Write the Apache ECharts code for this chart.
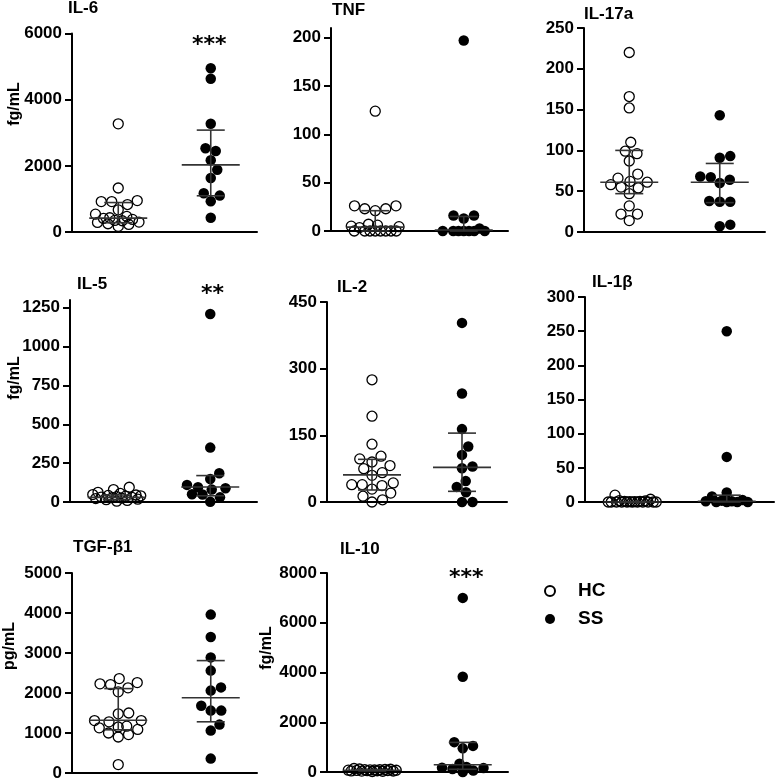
<!DOCTYPE html>
<html><head><meta charset="utf-8">
<script src="https://cdn.jsdelivr.net/npm/echarts@6/dist/echarts.min.js"></script>
<style>html,body{margin:0;padding:0;background:#fff}#c{width:777px;height:780px}</style>
</head><body><div id="c"></div>
<script>
// ---- data ----
const groups = ['HC', 'SS'];
// stats arrays are [median, Q1, Q3]
const il6Hc = [3270, 1330, 920, 830, 920, 950, 670, 540, 470, 430, 380, 340, 300, 250, 170, 230, 290, 350, 410];
const il6Ss = [4950, 4630, 3270, 2530, 2450, 2170, 1880, 1630, 1170, 1100, 930, 430];
const il6HcStat = [420, 280, 890];
const il6SsStat = [2030, 1095, 3080];

const tnfHc = [124, 26, 23, 21, 23, 26, 7, 5, 3.5, 6, 4.5, 0, 0, 0, 0, 0, 0, 0, 0];
const tnfSs = [197, 13, 16, 16, 2.5, 0, 0, 0, 0, 0, 0, 0];
const tnfHcStat = [4, 0, 21];
const tnfSsStat = [1, 0, 15];

const il17Hc = [220, 166, 152, 110, 96, 99, 87, 71, 62, 58, 54, 55, 61, 66, 47, 32, 22, 22, 14];
const il17Ss = [143, 93, 91, 67, 60, 64, 68, 37, 37, 38, 7, 9];
const il17HcStat = [61, 47, 100];
const il17SsStat = [61, 36, 84];

const il5Hc = [95, 80, 62, 55, 48, 45, 42, 40, 38, 35, 32, 30, 28, 25, 22, 18, 15, 10, 5];
const il5Ss = [1210, 350, 185, 148, 110, 95, 88, 80, 50, 48, 30, 2];
const il5HcStat = [30, 15, 45];
const il5SsStat = [97, 40, 170];

const il2Hc = [275, 193, 130, 103, 90, 75, 82, 97, 66, 60, 43, 39, 37, 39, 29, 13, 20, 5, 0];
const il2Ss = [403, 244, 164, 125, 106, 76, 80, 47, 34, 22, 0, 0];
const il2HcStat = [61, 27, 96];
const il2SsStat = [78, 24, 155];

const il1bHc = [10, 4, 2, 1.5, 1, 1, 0.5, 0.5, 0, 0, 0, 0, 0, 0, 0, 0, 0, 0, 0];
const il1bSs = [250, 66, 14, 8, 3, 2, 1, 1, 0, 0, 0, 0];
const il1bHcStat = [0, 0, 0];
const il1bSsStat = [1, 0, 10];

const tgfHc = [2360, 2230, 2130, 2030, 2210, 2260, 1500, 1480, 1310, 1280, 1310, 1150, 1090, 1130, 1170, 960, 900, 1000, 210];
const tgfSs = [3960, 3400, 2890, 2560, 2140, 2060, 1680, 1560, 1560, 1210, 1060, 360];
const tgfHcStat = [1320, 1080, 2110];
const tgfSsStat = [1880, 1280, 2810];

const il10Hc = [140, 120, 110, 100, 95, 90, 85, 80, 75, 70, 65, 60, 55, 50, 45, 40, 35, 30, 20];
const il10Ss = [7000, 3830, 1200, 1050, 950, 330, 200, 170, 160, 120, 60, 0];
const il10HcStat = [70, 45, 95];
const il10SsStat = [290, 110, 1190];

const titles = ['IL-6', 'TNF', 'IL-17a', 'IL-5', 'IL-2', 'IL-1\u03b2', 'TGF-\u03b21', 'IL-10'];
const ticks6 = [0, 2000, 4000, 6000];
const ticksTnf = [0, 50, 100, 150, 200];
const ticks17 = [0, 50, 100, 150, 200, 250];
const ticks5 = [0, 250, 500, 750, 1000, 1250];
const ticks2 = [0, 150, 300, 450];
const ticks1b = [0, 50, 100, 150, 200, 250, 300];
const ticksTgf = [0, 1000, 2000, 3000, 4000, 5000];
const ticks10 = [0, 2000, 4000, 6000, 8000];

// ---- layout ----
const FONT = "'Liberation Sans', Arial, sans-serif";
const panels = [
  {hc: il6Hc, ss: il6Ss, hs: il6HcStat, sS: il6SsStat, ticks: ticks6, max: 6000,
   g: {left: 72, top: 33.5, width: 185, height: 198.5}, t: [68, 0], yl: ['fg/mL', 15, 104], star: ['***', 192, 34]},
  {hc: tnfHc, ss: tnfSs, hs: tnfHcStat, sS: tnfSsStat, ticks: ticksTnf, max: 210,
   g: {left: 331, top: 28, width: 177, height: 203}, t: [332, 2]},
  {hc: il17Hc, ss: il17Ss, hs: il17HcStat, sS: il17SsStat, ticks: ticks17, max: 250,
   g: {left: 584, top: 28, width: 181, height: 204}, t: [584, 6]},
  {hc: il5Hc, ss: il5Ss, hs: il5HcStat, sS: il5SsStat, ticks: ticks5, max: 1300,
   g: {left: 70, top: 300, width: 187, height: 202}, t: [77, 276], yl: ['fg/mL', 15, 378], star: ['**', 201, 283]},
  {hc: il2Hc, ss: il2Ss, hs: il2HcStat, sS: il2SsStat, ticks: ticks2, max: 450,
   g: {left: 327, top: 302, width: 180, height: 200}, t: [337, 279]},
  {hc: il1bHc, ss: il1bSs, hs: il1bHcStat, sS: il1bSsStat, ticks: ticks1b, max: 300,
   g: {left: 585, top: 297, width: 189, height: 205}, t: [592, 274]},
  {hc: tgfHc, ss: tgfSs, hs: tgfHcStat, sS: tgfSsStat, ticks: ticksTgf, max: 5000,
   g: {left: 72, top: 573, width: 185, height: 200}, t: [73, 539], yl: ['pg/mL', 10, 646]},
  {hc: il10Hc, ss: il10Ss, hs: il10HcStat, sS: il10SsStat, ticks: ticks10, max: 8000,
   g: {left: 327, top: 573, width: 181, height: 199}, t: [340, 541], yl: ['fg/mL', 267, 648], star: ['***', 449, 567]}
];

// beeswarm layout: each point takes the nearest free horizontal slot; in crowded
// rows the allowed spacing shrinks for that point only
const D0 = 10.5, MAXHALF = 24;
function swarm(vals, pxPerUnit) {
  const idx = vals.map((v, i) => i).sort((a, b) => vals[a] - vals[b]);
  const placed = [], off = new Array(vals.length);
  const cands = [0];
  for (let s = 0.25; s <= MAXHALF; s += 0.25) cands.push(s, -s);
  for (const i of idx) {
    const y = vals[i] * pxPerUnit;
    let found = null;
    for (let D = D0; D > 0.3 && found === null; D *= 0.9) {
      for (const c of cands) {
        let ok = true;
        for (const p of placed) { if (Math.hypot(p.x - c, p.y - y) < D) { ok = false; break; } }
        if (ok) { found = c; break; }
      }
    }
    if (found === null) found = 0;
    placed.push({x: found, y}); off[i] = found;
  }
  return off;
}

const grid = [], xAxis = [], yAxis = [], series = [], title = [], graphic = [];
panels.forEach((p, k) => {
  grid.push(Object.assign({outerBoundsMode: 'none', containLabel: false}, p.g));
  xAxis.push({type: 'value', gridIndex: k, min: 0, max: 2, show: true,
    axisLine: {show: true, onZero: false, lineStyle: {color: '#000', width: 2}},
    axisTick: {show: false}, axisLabel: {show: false}, splitLine: {show: false}});
  yAxis.push({type: 'value', gridIndex: k, min: 0, max: p.max, interval: p.ticks[1] - p.ticks[0],
    axisLine: {show: true, lineStyle: {color: '#000', width: 2}},
    axisTick: {show: true, length: 7, lineStyle: {color: '#000', width: 2}, customValues: p.ticks},
    axisLabel: {color: '#000', fontSize: 17, fontWeight: 'bold', fontFamily: FONT, margin: 10,
      customValues: p.ticks, formatter: v => String(v)},
    splitLine: {show: false}});
  const pxu = p.g.height / p.max, xu = 2 / p.g.width;
  [[p.hc, p.hs, 0], [p.ss, p.sS, 1]].forEach(([vals, st, gi]) => {
    const offs = swarm(vals, pxu);
    const hc = gi === 0;
    series.push({type: 'scatter', name: groups[gi], xAxisIndex: k, yAxisIndex: k, clip: false,
      symbol: 'circle', symbolSize: hc ? 10 : 10.5, z: 3,
      itemStyle: hc ? {color: 'rgba(255,255,255,0)', borderColor: '#000', borderWidth: 1.3, opacity: 1}
                    : {color: '#000', borderColor: '#000', borderWidth: 0, opacity: 1},
      emphasis: {disabled: true},
      data: vals.map((v, i) => [gi + 0.5 + offs[i] * xu, v])});
    series.push({type: 'custom', xAxisIndex: k, yAxisIndex: k, z: 4, silent: true, clip: false,
      data: [[gi + 0.5, st[0], st[1], st[2]]],
      renderItem: (params, api) => {
        const cx = api.value(0);
        const pm = api.coord([cx, api.value(1)]), p1 = api.coord([cx, api.value(2)]), p3 = api.coord([cx, api.value(3)]);
        const s = {stroke: '#333', lineWidth: 1.6};
        return {type: 'group', children: [
          {type: 'line', shape: {x1: pm[0] - 29, y1: pm[1], x2: pm[0] + 29, y2: pm[1]}, style: s},
          {type: 'line', shape: {x1: p3[0] - 14, y1: p3[1], x2: p3[0] + 14, y2: p3[1]}, style: s},
          {type: 'line', shape: {x1: p1[0] - 14, y1: p1[1], x2: p1[0] + 14, y2: p1[1]}, style: s},
          {type: 'line', shape: {x1: p1[0], y1: p1[1], x2: p3[0], y2: p3[1]}, style: s}
        ]};
      }});
  });
  title.push({text: titles[k], left: p.t[0], top: p.t[1], padding: 0,
    textStyle: {fontSize: 17, fontWeight: 'bold', color: '#000', fontFamily: FONT}});
  if (p.star) title.push({text: p.star[0], left: p.star[1], top: p.star[2], padding: 0,
    textStyle: {fontSize: 22, fontWeight: 'bold', color: '#000', fontFamily: "'DejaVu Sans'"}});
  if (p.yl) graphic.push({type: 'text', x: p.yl[1], y: p.yl[2], rotation: Math.PI / 2,
    style: {text: p.yl[0], font: 'bold 16px ' + FONT, fill: '#000',
      textAlign: 'center', textVerticalAlign: 'middle', align: 'center', verticalAlign: 'middle'}});
});

const chart = echarts.init(document.getElementById('c'), null, {renderer: 'canvas'});
chart.setOption({
  animation: false,
  backgroundColor: '#fff',
  title, grid, xAxis, yAxis, series, graphic,
  legend: {data: groups, orient: 'vertical', left: 544, top: 581, icon: 'circle',
    itemWidth: 10, itemHeight: 10, itemGap: 8, padding: 0, selectedMode: false,
    textStyle: {fontSize: 19, fontWeight: 'bold', color: '#000', fontFamily: FONT, lineHeight: 20, padding: [0, 0, 0, 18]}}
});
</script></body></html>
